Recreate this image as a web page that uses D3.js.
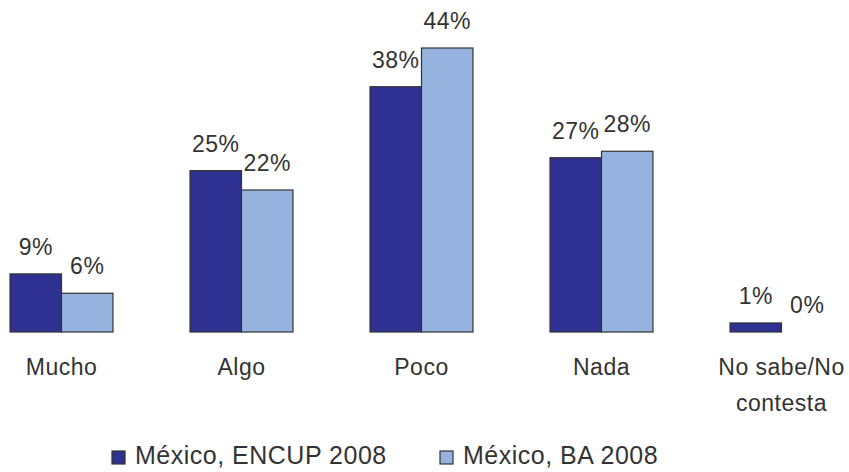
<!DOCTYPE html>
<html>
<head>
<meta charset="utf-8">
<script src="https://cdn.jsdelivr.net/npm/d3@7"></script>
<style>
  html, body { margin: 0; padding: 0; background: #fff; }
  svg text { font-family: "Liberation Sans", Arial, sans-serif; fill: #333; }
</style>
</head>
<body>
<svg id="chart" width="849" height="472"></svg>
<script>
const categories = ["Mucho", "Algo", "Poco", "Nada", "No sabe/No contesta"];
const categoryLines = [["Mucho"], ["Algo"], ["Poco"], ["Nada"], ["No sabe/No", "contesta"]];
const seriesNames = ["México, ENCUP 2008", "México, BA 2008"];
const encup2008 = [9, 25, 38, 27, 1.4];
const ba2008 = [6, 22, 44, 28, 0];
const seriesColors = ["#2E3192", "#95B3DE"];

const svg = d3.select("#chart");
const baseY = 332;
const fontSize = 23;

const x0 = d3.scaleBand().domain(categories).range([-28.5, 871.5]).paddingInner(0.428).paddingOuter(0.214);
const x1 = d3.scaleBand().domain(seriesNames).range([0, x0.bandwidth()]);
const y = d3.scaleLinear().domain([0, 44]).range([baseY, 48]);

const seriesData = [encup2008, ba2008];
const rows = [];
categories.forEach((c, i) => {
  seriesNames.forEach((s, j) => rows.push({cat: c, series: s, value: seriesData[j][i], j}));
});

const fmt = v => d3.format(".0f")(v) + "%";

const g = svg.append("g");
g.selectAll("rect.bar").data(rows.filter(d => d.value > 0)).join("rect")
  .attr("class", "bar")
  .attr("x", d => x0(d.cat) + x1(d.series))
  .attr("y", d => y(d.value))
  .attr("width", x1.bandwidth())
  .attr("height", d => y(0) - y(d.value))
  .attr("fill", d => seriesColors[d.j])
  .attr("stroke", "#333")
  .attr("stroke-width", 1.2);

g.selectAll("text.val").data(rows).join("text")
  .attr("class", "val")
  .attr("x", d => x0(d.cat) + x1(d.series) + x1.bandwidth() / 2)
  .attr("y", d => y(d.value) - 19)
  .attr("text-anchor", "middle")
  .attr("font-size", fontSize)
  .style("letter-spacing", "0.5px")
  .text(d => fmt(d.value));

// category labels
const cl = g.selectAll("text.cat").data(categories).join("text")
  .attr("class", "cat")
  .attr("x", d => x0(d) + x0.bandwidth() / 2)
  .attr("y", 375)
  .attr("text-anchor", "middle")
  .attr("font-size", fontSize)
  .style("letter-spacing", "0.5px");
cl.each(function(d, i) {
  d3.select(this).selectAll("tspan").data(categoryLines[i]).join("tspan")
    .attr("x", x0(d) + x0.bandwidth() / 2)
    .attr("dy", (t, k) => k === 0 ? 0 : 36)
    .text(t => t);
});

// legend
const legendX = [112, 440];
const lg = svg.append("g").selectAll("g").data(seriesNames).join("g")
  .attr("transform", (d, i) => `translate(${legendX[i]},0)`);
lg.append("rect")
  .attr("x", 0).attr("y", 451).attr("width", 13).attr("height", 13)
  .attr("fill", (d, i) => seriesColors[i])
  .attr("stroke", "#333").attr("stroke-width", 1.2);
lg.append("text")
  .attr("x", 23).attr("y", 464)
  .attr("font-size", 25)
  .style("letter-spacing", "0.5px")
  .text(d => d);
</script>
</body>
</html>
